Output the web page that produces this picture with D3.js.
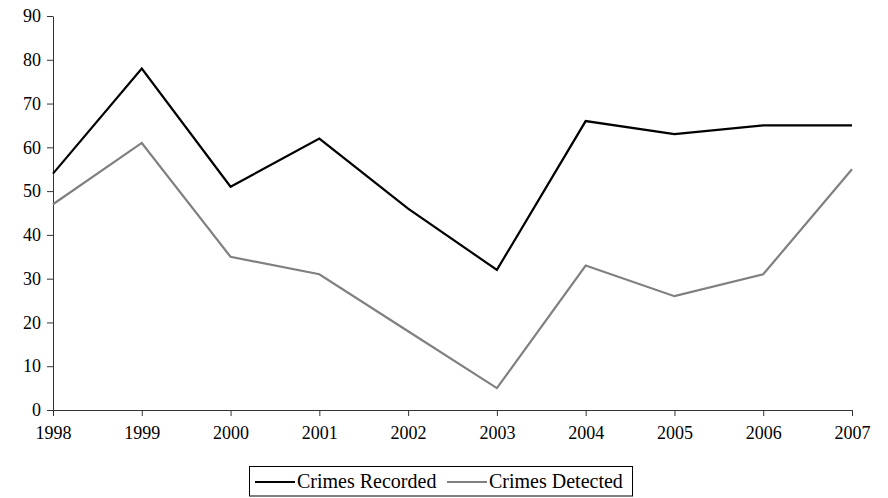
<!DOCTYPE html>
<html><head><meta charset="utf-8">
<script src="https://cdn.jsdelivr.net/npm/d3@7"></script>
<style>body{margin:0;background:#fff}svg{display:block}</style>
</head><body>
<svg id="c" width="888" height="498"></svg>
<script>
const years = ["1998","1999","2000","2001","2002","2003","2004","2005","2006","2007"];
const recorded = [54, 78, 51, 62, 46, 32, 66, 63, 65, 65];
const detected = [47, 61, 35, 31, 18, 5, 33, 26, 31, 55];
const yTicks = [0,10,20,30,40,50,60,70,80,90];
const seriesNames = ["Crimes Recorded", "Crimes Detected"];
const seriesColors = ["#000000", "#808080"];

const svg = d3.select("#c");
const font = "Liberation Serif, Times New Roman, serif";
const x = d3.scalePoint().domain(years).range([53, 852]);
const y = d3.scaleLinear().domain([0, 90]).range([410, 16]);

const yAxis = svg.append("g").attr("transform","translate(53,0)")
  .call(d3.axisLeft(y).tickValues(yTicks).tickSize(6).tickSizeOuter(0).tickPadding(6));
const xAxis = svg.append("g").attr("transform","translate(0,410)")
  .call(d3.axisBottom(x).tickSize(6).tickSizeOuter(0).tickPadding(10));
[yAxis, xAxis].forEach(g => {
  g.selectAll("path,line").attr("stroke","#333").attr("stroke-width",1);
  g.selectAll("text").attr("font-family",font).attr("font-size",18).attr("fill","#000");
});

const line = d3.line().x((d,i)=>x(years[i])).y(d=>y(d));
[recorded, detected].forEach((s,k)=>{
  svg.append("path").datum(s).attr("d",line).attr("fill","none")
    .attr("stroke",seriesColors[k]).attr("stroke-width",2.2).attr("stroke-linejoin","miter");
});

const lg = svg.append("g");
lg.append("rect").attr("x",249.5).attr("y",466.5).attr("width",383).attr("height",29.5)
  .attr("fill","#fff").attr("stroke","#000").attr("stroke-width",1);
const legX = [255, 447];
seriesNames.forEach((n,k)=>{
  lg.append("line").attr("x1",legX[k]).attr("x2",legX[k]+40).attr("y1",482).attr("y2",482)
    .attr("stroke",seriesColors[k]).attr("stroke-width",2.2);
  lg.append("text").attr("x",legX[k]+42).attr("y",488).text(n)
    .attr("font-family",font).attr("font-size",20).attr("fill","#000");
});
</script>
</body></html>
